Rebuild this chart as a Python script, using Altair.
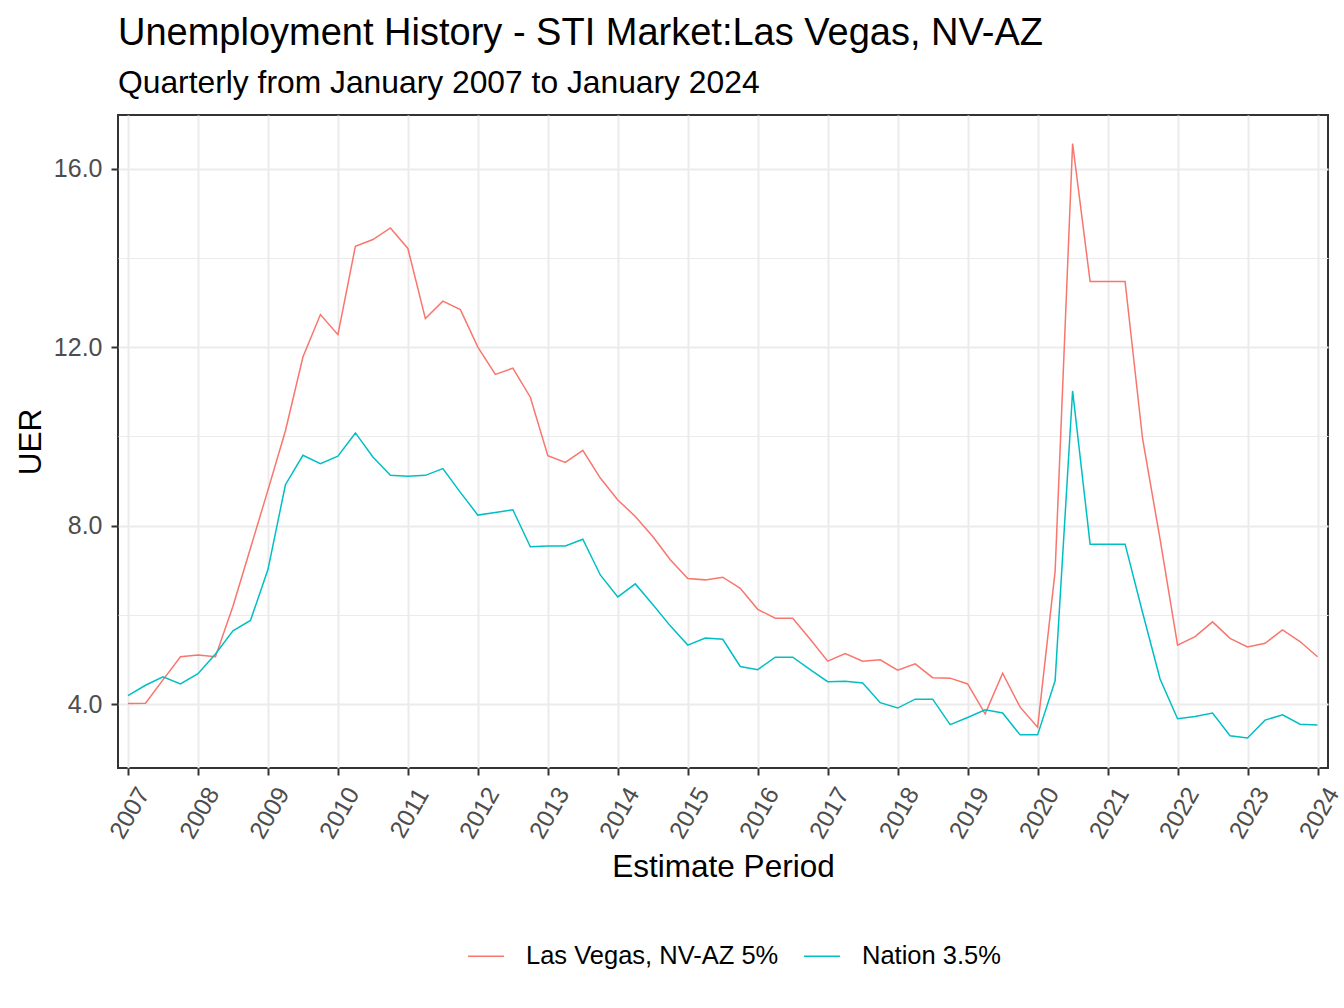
import altair as alt
import pandas as pd

series_names = ["Las Vegas, NV-AZ 5%", "Nation 3.5%"]
series_colors = ["#F8766D", "#00BFC4"]

start_year = 2007
# Quarterly values, 2007 Q1 .. 2024 Q1
las_vegas = [
    4.02, 4.03, 4.55, 5.07,
    5.11, 5.07, 6.20, 7.50,
    8.80, 10.13, 11.78, 12.73,
    12.28, 14.26, 14.41, 14.67,
    14.21, 12.64, 13.03, 12.84,
    12.00, 11.39, 11.53, 10.88,
    9.57, 9.42, 9.69, 9.07,
    8.58, 8.21, 7.76, 7.24,
    6.82, 6.79, 6.85, 6.60,
    6.13, 5.93, 5.93, 5.46,
    4.97, 5.14, 4.97, 5.00,
    4.77, 4.91, 4.60, 4.59,
    4.46, 3.79, 4.70, 3.94,
    3.49, 6.98, 16.56, 13.47,
    13.47, 13.47, 9.95, 7.70,
    5.33, 5.52, 5.85, 5.48,
    5.29, 5.37, 5.67, 5.41,
    5.07,
]
nation = [
    4.20, 4.43, 4.62, 4.46,
    4.69, 5.13, 5.65, 5.88,
    7.02, 8.92, 9.58, 9.39,
    9.56, 10.08, 9.54, 9.13,
    9.11, 9.13, 9.28, 8.75,
    8.24, 8.30, 8.36, 7.53,
    7.55, 7.55, 7.70, 6.90,
    6.41, 6.70, 6.24, 5.76,
    5.33, 5.49, 5.46, 4.85,
    4.78, 5.06, 5.06, 4.78,
    4.51, 4.52, 4.48, 4.04,
    3.92, 4.12, 4.12, 3.55,
    3.71, 3.88, 3.81, 3.32,
    3.32, 4.53, 11.02, 7.59,
    7.59, 7.59, 6.06, 4.57,
    3.68, 3.73, 3.81, 3.30,
    3.25, 3.65, 3.77, 3.56,
    3.54,
]
year_ticks = list(range(2007, 2025))
y_ticks = [4, 6, 8, 10, 12, 14, 16]

rows = []
for name, vals in zip(series_names, [las_vegas, nation]):
    for i, v in enumerate(vals):
        rows.append({"period": start_year + i / 4.0, "UER": v, "series": name})
df = pd.DataFrame(rows)

FONT = "Liberation Sans"

x_axis = alt.Axis(
    values=year_ticks,
    format="d",
    labelAngle=300,
    labelAlign="center",
    labelBaseline="middle",
    labelPadding=38,
    labelOffset=2,
    labelFontSize=24.5,
    labelColor="#4D4D4D",
    labelFont=FONT,
    labelOverlap=False,
    labelFlush=False,
    tickSize=7,
    tickWidth=2,
    tickColor="#333333",
    domain=False,
    grid=True,
    gridColor="#EBEBEB",
    gridWidth=2,
    title="Estimate Period",
    titleFont=FONT,
    titleFontSize=31.5,
    titleFontWeight="normal",
    titleColor="#000000",
    titleAlign="center",
    titleBaseline="alphabetic",
    titleX=605,
    titleY=108,
)

y_axis = alt.Axis(
    values=y_ticks,
    labelExpr="datum.value % 4 === 0 ? format(datum.value, '.1f') : ''",
    labelFontSize=25,
    labelColor="#4D4D4D",
    labelFont=FONT,
    labelPadding=9,
    tickSize=7,
    tickWidth=2,
    tickColor={"condition": {"test": "datum.value % 4 === 0", "value": "#333333"}, "value": "rgba(0,0,0,0)"},
    domain=False,
    grid=True,
    gridColor="#EBEBEB",
    gridWidth={"condition": {"test": "datum.value % 4 === 0", "value": 2}, "value": 1},
    title="UER",
    titleFont=FONT,
    titleFontSize=31.5,
    titleFontWeight="normal",
    titleColor="#000000",
    titleAngle=270,
    titleAlign="center",
    titleBaseline="alphabetic",
    titleX=-78,
    titleY=326.5,
)

chart = (
    alt.Chart(df)
    .mark_line(strokeWidth=1.5)
    .encode(
        x=alt.X("period:Q", scale=alt.Scale(domain=[2006.857, 2024.150], nice=False, zero=False), axis=x_axis),
        y=alt.Y("UER:Q", scale=alt.Scale(domain=[2.578, 17.198], nice=False, zero=False), axis=y_axis),
        color=alt.Color(
            "series:N",
            scale=alt.Scale(domain=series_names, range=series_colors),
            legend=alt.Legend(
                title=None,
                orient="none",
                direction="horizontal",
                legendX=349,
                legendY=822,
                symbolType="stroke",
                symbolSize=1296,
                symbolStrokeWidth=1.5,
                labelFontSize=25.5,
                labelFont=FONT,
                labelColor="#000000",
                labelLimit=0,
                labelOffset=21,
                columnPadding=22,
            ),
        ),
        order=alt.Order("period:Q"),
    )
    .properties(
        width=1210,
        height=653,
        autosize=alt.AutoSizeParams(type="none"),
        padding={"left": 118, "top": 115, "right": 16, "bottom": 240},
        title=alt.TitleParams(
            text="Unemployment History - STI Market:Las Vegas, NV-AZ",
            subtitle="Quarterly from January 2007 to January 2024",
            anchor="start",
            frame="group",
            font=FONT,
            fontSize=38,
            fontWeight="normal",
            color="#000000",
            subtitleFont=FONT,
            subtitleFontSize=31.8,
            subtitleColor="#000000",
            subtitlePadding=15,
            offset=15,
        ),
    )
    .configure(
        background="white",
        view=alt.ViewConfig(stroke="#333333", strokeWidth=2),
    )
)

chart.save("out.html", embed_options={"renderer": "svg", "actions": False})
